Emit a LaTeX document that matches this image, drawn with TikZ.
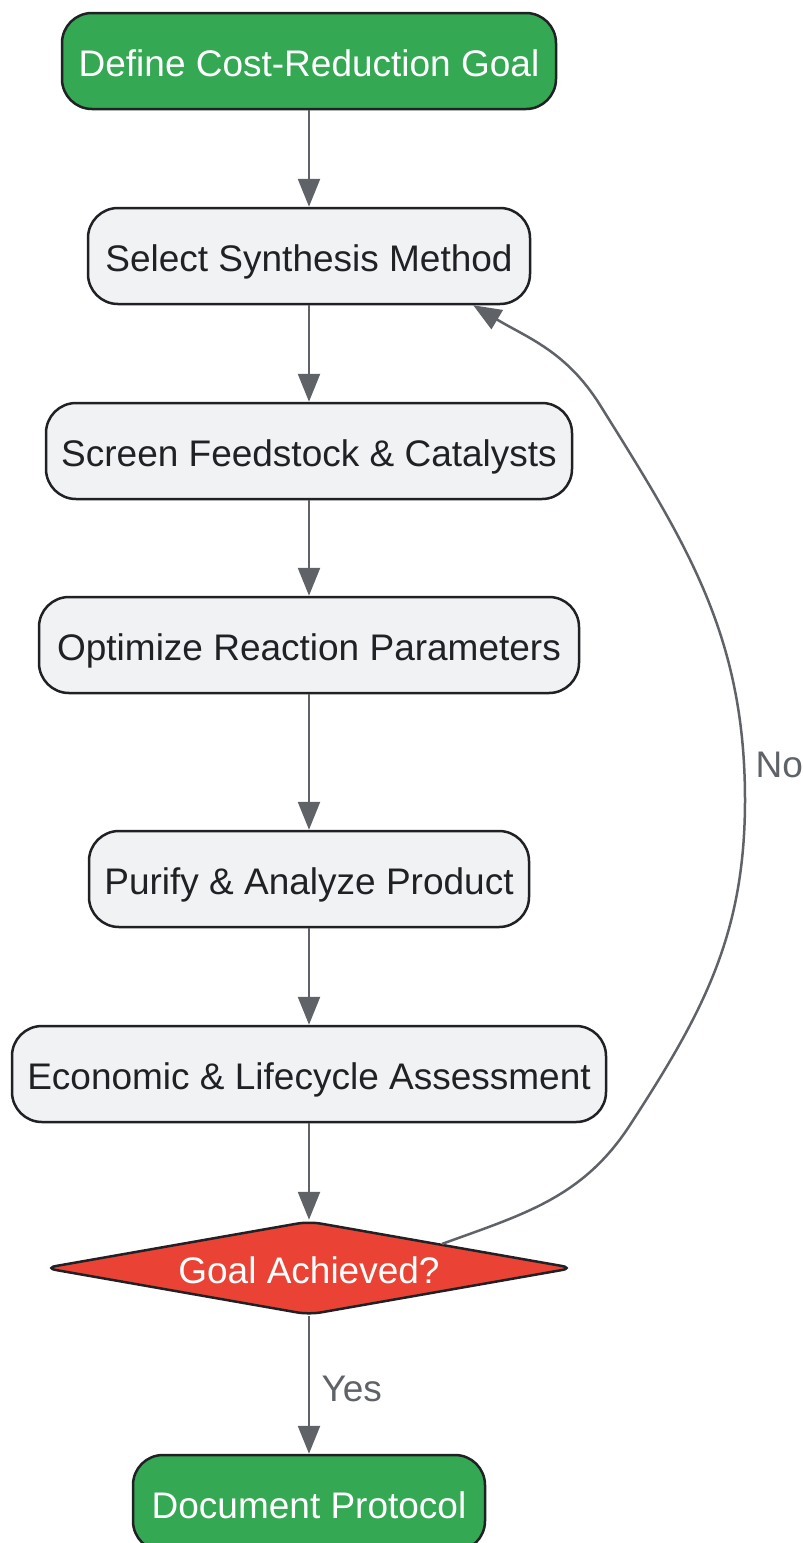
\documentclass[tikz,border=0pt]{standalone}
\usepackage{fontspec}
\setmainfont{Liberation Sans}
\usetikzlibrary{arrows.meta,shapes.geometric}
\definecolor{goalgreen}{HTML}{34A853}
\definecolor{goalred}{HTML}{EA4335}
\definecolor{boxfill}{HTML}{F1F2F4}
\definecolor{boxline}{HTML}{202124}
\definecolor{flowgray}{HTML}{5F6368}

\begin{document}
\begin{tikzpicture}[x=1pt,y=-1pt,
        stagebox/.style={rectangle, rounded corners=30pt, draw=boxline, line width=2.5pt, fill=boxfill, text=boxline, minimum height=96pt, inner sep=0pt, text height=30pt, text depth=0pt, font=\fontsize{37}{44}\selectfont},
        endbox/.style={stagebox, fill=goalgreen, text=white},
        decision/.style={diamond, aspect=5.67, draw=boxline, line width=2.5pt, fill=goalred, text=white, minimum width=530pt, minimum height=94pt, inner sep=0pt, rounded corners=12pt, text height=30pt, text depth=0pt, font=\fontsize{37}{44}\selectfont},
        flow/.style={draw=flowgray, line width=2.5pt, -{Triangle[length=28pt,width=22pt]}},
        lbl/.style={text=flowgray, font=\fontsize{37}{44}\selectfont},
    ]
    \useasboundingbox (0,0) rectangle (803,1543);

    \node[endbox, minimum width=494pt] (define) at (309,61) {Define Cost-Reduction Goal};
    \node[stagebox, minimum width=442pt] (select) at (309,256) {Select Synthesis Method};
    \node[stagebox, minimum width=526pt] (screen) at (309,451) {Screen Feedstock \& Catalysts};
    \node[stagebox, minimum width=540pt] (optimize) at (309,645) {Optimize Reaction Parameters};
    \node[stagebox, minimum width=440pt] (purify) at (309,879) {Purify \& Analyze Product};
    \node[stagebox, minimum width=594pt] (assess) at (309,1074) {Economic \& Lifecycle Assessment};
    \node[decision] (goal) at (309,1268) {Goal Achieved?};
    \node[endbox, minimum width=352pt] (doc) at (309,1503) {Document Protocol};

    \coordinate (loopa) at (630,1125);
    \coordinate (loopb) at (745,800);
    \coordinate (loopc) at (600,405);
    \coordinate (loopend) at ([xshift=-58pt]select.south east);

    \node[lbl, anchor=west] (yes) at (318,1389) {Yes};
    \node[lbl, anchor=west] (no) at (752,765) {No};

    \draw[flow] (define) -- (select);
    \draw[flow] (select) -- (screen);
    \draw[flow] (screen) -- (optimize);
    \draw[flow] (optimize) -- (purify);
    \draw[flow] (purify) -- (assess);
    \draw[flow] (assess) -- (goal);
    \draw[flow] (goal) -- (doc);
    \draw[flow] (goal.north east) to[out=20, in=237] (loopa)
        to[out=57, in=270] (loopb)
        to[out=90, in=-58] (loopc)
        to[out=122, in=-31] (loopend);
\end{tikzpicture}
\end{document}
